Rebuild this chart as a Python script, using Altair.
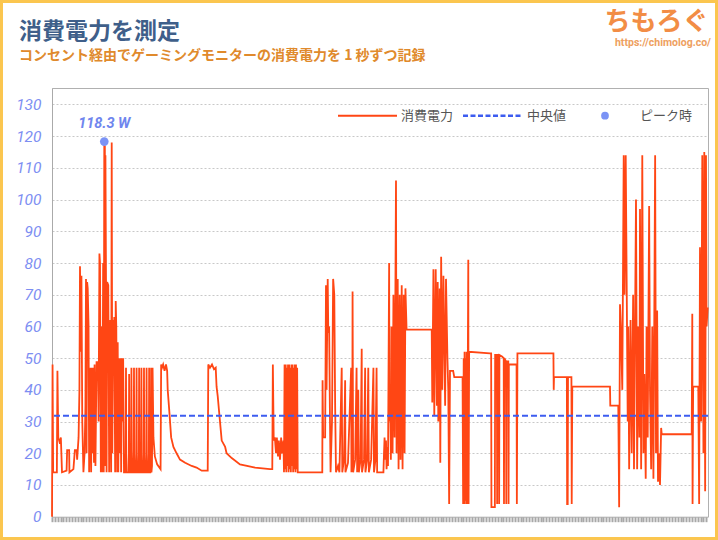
import altair as alt
import pandas as pd

# ---- data: (seconds, watts) ----
seg_start = [(0,0),(2,48),(4,14),(17,14),(19,46),(22,25),(28,23),(31,25),(35,14),(51,14.5),
             (53,21),(60,21),(61,14),(75,15),(80,21),(86,21),(88,18),(93,25),(96,40),(98,79),
             (101,52),(103,76),(106,30),(110,14),(114,20),(117,35),(119,75),(121,20),(123,74),(125,72),
             (128,60),(130,14),(135,47),(137,14),(139,47),(142,20),(144,47),(147,17),(149,48),(152,16),
             (156,49),(158,44),(161,49),(163,30),(166,83),(168,80),(171,14),(173,60),(176,14),(179,80),
             (181,14),(183,118.3),(184,20),(185,117),(186,16),(187,114),(189,75),(191,14),(193,74),(197,73),
             (200,14),(204,62),(207,14),(209,118),(211,20),(214,62),(216,55),(218,63),(221,14),(223,68),
             (225,60),(228,14),(230,55),(232,14),(235,50),(237,20),(240,50),(242,14),(244,50),(247,30),
             (249,50),(252,14)]

seg_spikes = [(256,14),(258,20),(259,47),(260,14),(267,14),(269,20),(270,45),(271,14),
              (275,14),(277,20),(278,47),(279,14),(284,14),(286,21),(287,47),(288,14),
              (293,14),(295,20),(296,47),(297,14),(302,14),(304,20),(305,47),(306,14),
              (310,14),(312,21),(313,47),(314,14),(319,14),(321,20),(322,47),(323,14),
              (328,14),(330,20),(331,47),(332,14),(337,14),(339,20),(340,47),(341,14),
              (344,14),(346,20),(347,47),(348,14),(350,16),(352,47),(355,25),(360,19),
              (368,16.5),(380,15)]

seg_idle = [(382,48),(385,47),(389,48),(394,46),(399,48),(403,46),(405,40),(410,34),(417,25),(425,22),
            (436,20),(448,18),(466,17),(489,16),(506,15.5),(524,14.5),(545,14.5),(547,48),(553,47),(560,48),
            (567,46.5),(573,47),(576,41),(580,38),(585,33),(588,30),(594,24),(606,22),(611,20),(629,18.5),
            (658,16.5),(711,15.5),(763,15)]

seg_mid = [(769,15),(771,15),(773,48),(776,24),(780,25),(784,20),(787,25),(791,19),(794,24),(798,18),
           (802,25),(805,20),(810,24),
           (812,14),(814,48),(816,15),(818,48),(820,14),(822,47),(824,16),(826,48),(828,14),(830,48),
           (832,15),(834,47),(836,14),(838,48),(840,16),(842,48),(844,14),(846,47),(848,15),(850,48),
           (852,14),(854,48),(856,15),(858,47),(860,14),
           (946,14),(947,43),(949,25),(956,25),(959,73),(961,40),(965,75),(967,58),(970,60),(973,30),
           (975,14),(980,30),(984,75),(988,70),(991,35),(994,14),(1001,16),(1006,14),(1014,47),(1016,14),
           (1022,18),(1026,43),(1027,14),(1036,17),(1047,47),(1048,14),(1051,20),(1052,71),(1054,14),
           (1061,18),(1066,47),(1068,14),(1072,40),(1074,14),(1080,18),(1084,53),(1085,14),(1092,18),
           (1096,47),(1097,14),(1103,18),(1107,47),(1109,14),(1117,18),(1125,47),(1127,14),(1132,18),
           (1136,47),(1138,14),(1160,14)]

seg_game = [(1162,20),(1164,25),(1167,18),(1169,24),(1171,15),(1174,22),(1176,16),(1180,80),(1181,30),
            (1183,40),(1186,18),(1188,60),(1192,20),(1195,70),(1199,25),(1204,106),(1206,20),(1210,75),
            (1213,15),(1217,70),(1220,18),(1224,73),(1227,15),(1231,70),(1234,20),(1237,72),(1241,59),
            (1329,59),(1331,36),(1335,78),(1338,32),(1343,78),(1347,35),(1350,74),(1352,30),(1357,72),
            (1359,17),(1362,82),(1366,40),(1370,76),(1376,35),(1379,75),(1384,50),(1387,40),(1390,4),
            (1393,46),(1404,46),(1408,44),(1437,44),(1439,4),(1441,50),(1443,4),(1444,52),(1446,5),
            (1448,50),(1450,4),(1451,52),(1453,4),(1457,81),(1458,4),(1460,52),(1533,51.5)]

seg_late = [(1537,51.5),(1538,3),(1550,3),(1551,51),(1557,51),(1558,4),(1559,51),(1564,51),(1565,4),
            (1566,51),(1575,50.5),(1581,50),(1582,4),(1583,50),(1589,49),(1590,4),(1591,49),(1597,49),
            (1598,4),(1599,48),(1626,48),(1627,4),(1629,51.5),(1755,51.5),(1756,40),(1757,44),(1802,44),
            (1803,4),(1805,4),(1806,44),(1818,44),(1819,4),(1821,41),(1953,41),(1954,35),(1982,35)]

seg_end = [(1985,3),(1988,67),(1991,60),(1996,40),(2001,114),(2004,70),(2008,114),(2011,78),(2015,30),
           (2017,60),(2020,15),(2025,62),(2029,20),(2034,70),(2037,15),(2041,65),(2044,100),(2048,15),
           (2052,60),(2056,25),(2058,97),(2062,15),(2066,114),(2070,20),(2073,45),(2078,12),(2081,60),
           (2085,25),(2090,98),(2093,40),(2097,15),(2101,60),(2105,12),(2111,114),(2114,20),(2118,65),
           (2121,11),(2125,20),(2128,10),(2132,28),(2134,26),(2239,26),(2241,64),(2242,4),(2244,41),
           (2262,41),(2265,4),(2268,85),(2272,30),(2276,114),(2280,20),(2283,115),(2286,8),(2289,114),
           (2291,60),(2295,66)]

median_watt = [31.8]
peak_sec = [183]
peak_watt = [118.3]
peak_text = ["118.3 W"]
y_ticks = [0, 10, 20, 30, 40, 50, 60, 70, 80, 90, 100, 110, 120, 130]
x_ticks = list(range(0, 2296, 10))
legend_labels = ["消費電力", "中央値", "ピーク時"]
title_text = "消費電力を測定"
subtitle_text = "コンセント経由でゲーミングモニターの消費電力を 1 秒ずつ記録"

df = pd.DataFrame(seg_start + seg_spikes + seg_idle + seg_mid + seg_game + seg_late + seg_end,
                  columns=["sec", "watt"])

ORANGE = "#ff4614"
BLUE = "#3d5cf0"
PEAK = "#7b93f5"
LATIN = "Roboto"
JP = "Noto Sans CJK JP"

x_scale = alt.Scale(domain=[0, 2296], nice=False, zero=False)
y_scale = alt.Scale(domain=[0, 135.2], nice=False)
x_axis = alt.Axis(values=x_ticks, labels=False, title=None, domain=False, grid=False,
                  tickColor="#a8a8a8", tickWidth=2, tickSize=5)
y_axis = alt.Axis(values=y_ticks, title=None, ticks=False, domainColor="#aaaaaa",
                  labelFont=LATIN, labelFontStyle="italic", labelFontSize=15.5,
                  labelColor="#7d8ef2", labelPadding=11, labelOverlap=False,
                  gridColor="#c8c8c8", gridDash=[2, 2], gridWidth=1)
X = alt.X("sec:Q", scale=x_scale, axis=x_axis)
Y = alt.Y("watt:Q", scale=y_scale, axis=y_axis)

line = alt.Chart(df).mark_line(color=ORANGE, strokeWidth=1.8).encode(x=X, y=Y)

median = alt.Chart(pd.DataFrame({"watt": median_watt})).mark_rule(
    color=BLUE, strokeDash=[6, 3], strokeWidth=2).encode(y=Y)

peak_df = pd.DataFrame({"sec": peak_sec, "watt": peak_watt, "t": peak_text})
peak_pt = alt.Chart(peak_df).mark_circle(color=PEAK, size=75, opacity=1).encode(x=X, y=Y)
peak_lbl = alt.Chart(peak_df).mark_text(
    dy=-18, font=LATIN, fontSize=14.5, fontWeight="bold", fontStyle="italic", color="#6f86ee"
).encode(x=X, y=Y, text="t:N")

one = pd.DataFrame({"k": [0]})
LY = 27.7
leg_line = alt.Chart(one).mark_rule(color=ORANGE, strokeWidth=2).encode(
    x=alt.value(286), x2=alt.value(345), y=alt.value(LY))
leg_dash = alt.Chart(one).mark_rule(color=BLUE, strokeWidth=2.5, strokeDash=[5, 2.5]).encode(
    x=alt.value(411), x2=alt.value(471), y=alt.value(LY))
leg_dot = alt.Chart(one).mark_circle(color=PEAK, size=60, opacity=1).encode(
    x=alt.value(553), y=alt.value(LY))
leg_texts = []
for lbl, px in zip(legend_labels, [349, 475, 588]):
    leg_texts.append(alt.Chart(one).mark_text(
        text=lbl, align="left", baseline="middle", font=JP, fontSize=13, color="#555555"
    ).encode(x=alt.value(px), y=alt.value(LY)))

title = alt.Chart(one).mark_text(
    text=title_text, font=JP, fontSize=23, fontWeight="bold", color="#3f5f8a",
    align="left", baseline="middle").encode(x=alt.value(-33), y=alt.value(-56))
subtitle = alt.Chart(one).mark_text(
    text=subtitle_text, font=JP, fontSize=14, fontWeight="bold", color="#e08a2c",
    align="left", baseline="middle").encode(x=alt.value(-33), y=alt.value(-32.5))

logo = alt.Chart(one).mark_text(
    text="ちもろぐ", font=JP, fontSize=26, fontWeight="bold", color="#f28d45",
    align="center", baseline="middle").encode(x=alt.value(604.5), y=alt.value(-66))
url = alt.Chart(one).mark_text(
    text="https://chimolog.co/", font=LATIN, fontSize=10.5, fontWeight="bold", color="#eea060",
    align="right", baseline="middle").encode(x=alt.value(659), y=alt.value(-45))

border = alt.Chart(one).mark_rect(fillOpacity=0, stroke="#fbc64f", strokeWidth=3).encode(
    x=alt.value(-50.5), x2=alt.value(664.5), y=alt.value(-86.5), y2=alt.value(450.5))

chart = alt.layer(
    line, median, peak_pt, peak_lbl, leg_line, leg_dash, leg_dot, *leg_texts,
    title, subtitle, logo, url, border
).properties(
    width=656, height=428.7,
    autosize="none",
    padding={"left": 52, "top": 88, "right": 10, "bottom": 23.3},
).configure(background="white").configure_view(stroke="#b0b0b0", strokeWidth=1)

chart.save("out.html", embed_options={"renderer": "svg", "actions": False})
